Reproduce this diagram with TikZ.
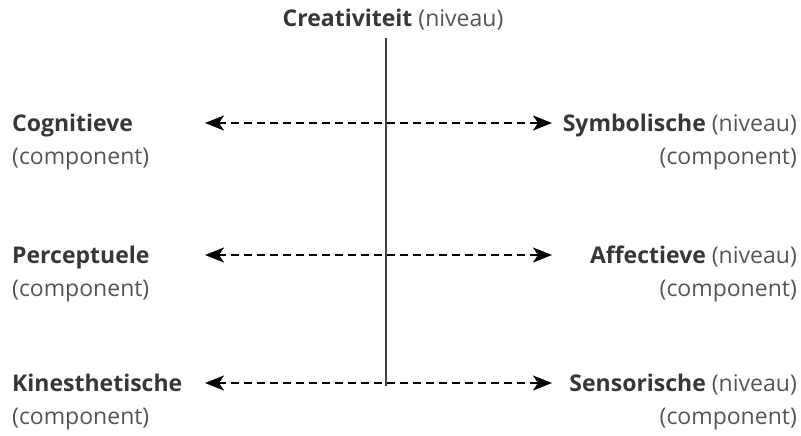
\documentclass[tikz,border=0pt]{standalone}
\usepackage{fontspec}
\setmainfont{Open Sans}
\usepackage{xcolor}
\usetikzlibrary{positioning,arrows.meta}
\definecolor{txt}{RGB}{55,55,55}
\definecolor{txtlight}{RGB}{85,85,85}
\newcommand{\lvl}[1]{\textbf{#1}}

\begin{document}
\begin{tikzpicture}[x=1pt, y=-1pt, font=\fontsize{23}{27}\selectfont, text=txt,
  lft/.style={inner sep=0pt, anchor=base west},
  rgt/.style={inner sep=0pt, anchor=base east},
  link/.style={line width=2.4pt, dash pattern=on 8pt off 5pt,
    {Stealth[length=19pt,width=15pt,inset=5pt]}-{Stealth[length=19pt,width=15pt,inset=5pt]}}]
  \useasboundingbox (0,0) rectangle (801,436);
  % top level and its axis
  \node[inner sep=0pt, anchor=base] (top) at (393,27) {\lvl{Creativiteit} {\color{txtlight}(niveau)}};
  \coordinate (axtop) at (386,38);
  \coordinate (axbot) at (386,386);
  \draw[line width=1.2pt, black!75] (axtop) -- (axbot);
  % rows: y / component / level
  \foreach \y/\c/\l [count=\i] in {123/Cognitieve/Symbolische,255/Perceptuele/Affectieve,383/Kinesthetische/Sensorische}{
    \node[lft] (c\i) at (12,\y+8) {\lvl{\c}};
    \node[lft, text=txtlight] (cc\i) at (12,\y+41) {(component)};
    \node[rgt] (l\i) at (797,\y+8) {\lvl{\l} {\color{txtlight}(niveau)}};
    \node[rgt, text=txtlight] (lc\i) at (797,\y+41) {(component)};
    \coordinate (al\i) at (205,\y);
    \coordinate (ar\i) at (552,\y);
    \draw[link] (al\i) -- (ar\i);
  }
\end{tikzpicture}
\end{document}
